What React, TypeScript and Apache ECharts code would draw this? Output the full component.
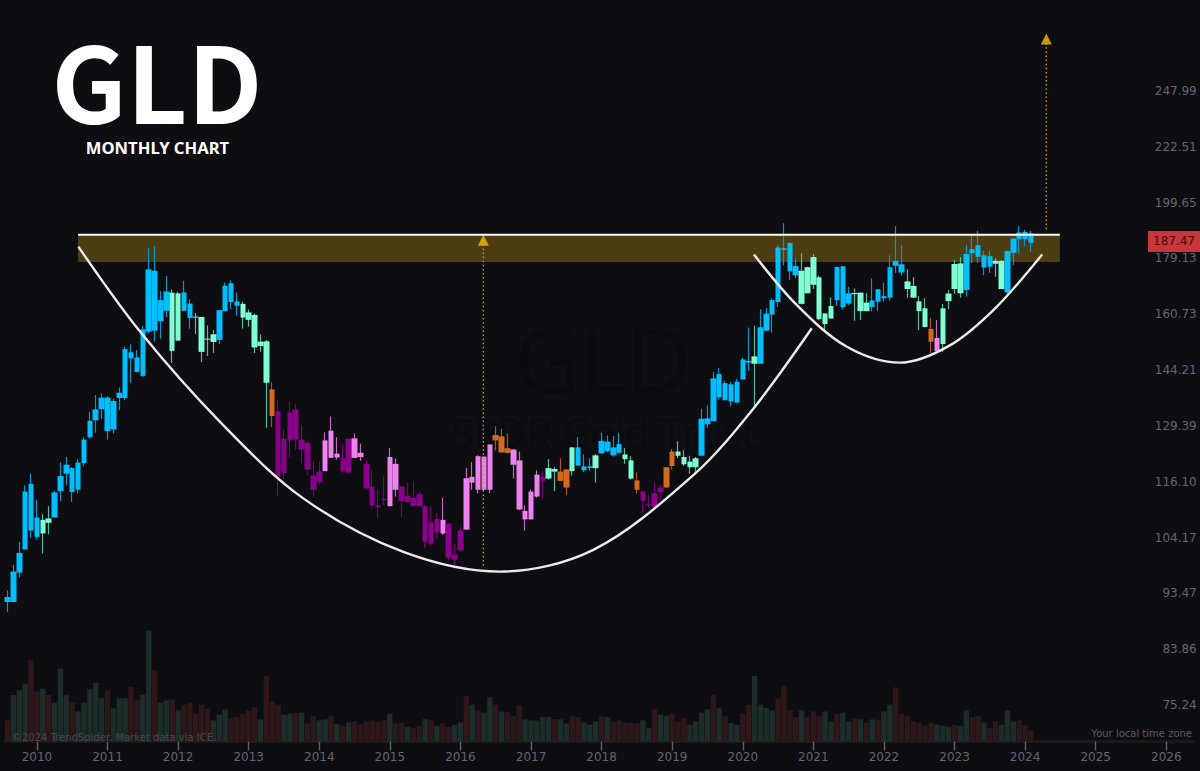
import { useEffect, useRef } from 'react'
import * as echarts from 'echarts'

// ── price axis: evenly spaced on a log scale ─────────────────
const PRICE_TICKS = ['75.24', '83.86', '93.47', '104.17', '116.10', '129.39', '144.21', '160.73', '179.13', '199.65', '222.51', '247.99']
const LOG_STEP = Math.log(247.99 / 75.24) / 11
const toAxis = (price: number) => Math.log(price / 75.24) / LOG_STEP

// ── monthly candles, first one Aug 2009 ──────────────────────
const HIGHS = [
  94.0, 98.8, 103.3, 115.3, 117.9, 112.1, 109.0, 110.7, 114.1, 120.5,
  121.8, 119.4, 121.2, 126.6, 133, 137.4, 137.8, 137.1, 136.4, 139.4,
  150.9, 151.6, 149.9, 157.2, 182.7, 183.5, 168.2, 173.1, 168.7, 167.9,
  171.6, 165.5, 161.1, 159.9, 157.3, 155.9, 162, 170.9, 171.7, 167.7,
  164.7, 162.2, 161, 154.6, 152.9, 140.9, 136, 128.5, 135.6, 135.1,
  129.5, 125.6, 120.8, 120.8, 127.8, 131.8, 126.6, 125, 126.2, 127.5,
  125, 121, 118.9, 114.4, 117.5, 124, 121.5, 115.1, 115.9, 116.2,
  113.9, 111, 110.7, 109.2, 112.5, 107.1, 102.9, 106.3, 119.2, 120.6,
  122.2, 121.9, 124.8, 129.3, 128.7, 127.5, 123.6, 123.1, 110.9, 114.4,
  118.7, 118.5, 121.3, 119.4, 121.5, 118.9, 124.2, 126.6, 122.4, 121.5,
  122.5, 127.7, 127, 126.9, 127.7, 123.9, 122, 118.2, 114.1, 113.2,
  115.9, 115.4, 119.4, 123.7, 125.6, 123.4, 122.1, 121.8, 133.8, 134.7,
  143.7, 144.8, 141.2, 141, 141.8, 147.7, 156.6, 157.2, 162.3, 162.7,
  165.8, 183.9, 191.8, 184.7, 179.2, 180.9, 176.3, 180.7, 173.2, 161,
  166.1, 176.3, 176.5, 169.5, 169, 167.7, 167.4, 172.3, 168.8, 170.9,
  180.2, 190.8, 183.9, 175.4, 172.7, 166.5, 165.8, 159.6, 158.9, 164,
  168.5, 178.6, 179.6, 183.9, 187.5, 189, 181.8, 181.8, 179.2, 178.6,
  181.8, 186.2, 190.8, 189.3, 189,
]
const BODY_TOPS = [
  92.8, 97.5, 101.1, 113.9, 115.6, 108.3, 107.8, 108.1, 113.7, 117.4,
  120.0, 119.2, 120.5, 126, 130.7, 133.6, 136.7, 136.7, 135.8, 138,
  150.2, 149.3, 147.8, 156.1, 175.4, 174.9, 165.2, 168, 167.6, 167.4,
  167.7, 164.1, 160, 159.9, 153.3, 154.6, 162, 169.9, 170.7, 164.8,
  164, 161.3, 160.5, 152.4, 152.5, 138.9, 133.1, 126.2, 132.8, 133.6,
  126, 125.2, 117.5, 118.4, 125.8, 128.2, 122.6, 121.5, 126.2, 126.3,
  122.8, 120.2, 115, 110.9, 112.3, 121.8, 120.2, 115, 113, 112.5,
  113.4, 110.7, 107.3, 108, 107.8, 107, 100.8, 105.6, 116.9, 117.2,
  122, 121.9, 124.8, 127.1, 126.8, 123.9, 123.6, 121, 109.7, 113.9,
  117.7, 117.2, 119.2, 119, 118.4, 118.9, 124.1, 124.1, 119.6, 119.6,
  122.2, 125.7, 125.5, 124.1, 124.9, 122.4, 121, 116.4, 113.9, 111.1,
  113.5, 114.8, 119.4, 123.1, 123.1, 121.8, 120.7, 121.5, 131.2, 131.3,
  141.9, 143.1, 140.6, 140.3, 141, 147.2, 146.8, 148.1, 156.7, 160.9,
  165.2, 183, 182.7, 184.6, 176.5, 174.9, 176.1, 179.6, 172.7, 161,
  163.3, 176.2, 176.4, 167.4, 167.5, 167.6, 164.4, 165.1, 168.7, 166.5,
  176.1, 178.3, 177.1, 171.3, 169.8, 164.8, 162.6, 156.2, 153.5, 162.6,
  167.3, 177.2, 177.4, 180.7, 182.4, 183.8, 180.2, 179.9, 178.3, 178.3,
  181.7, 186.2, 188.4, 188.6, 188.1,
]
const BODY_BOTTOMS = [
  91.9, 91.9, 97.3, 101.8, 105.6, 104.3, 105, 107.2, 108.3, 114,
  117.9, 113.8, 114.3, 120.4, 126.6, 130.8, 133.7, 128.1, 128.5, 136.6,
  136.6, 147.5, 143.7, 142.6, 155.4, 155.7, 158.6, 161.8, 149.7, 152.7,
  161.8, 159.6, 159.7, 149.4, 153, 152.3, 152.9, 161.7, 164.6, 163.4,
  159.7, 159, 150.7, 151.1, 140.7, 131.9, 117.3, 118.1, 125.8, 126,
  123.6, 118.9, 114.3, 116, 118.5, 121.6, 121.7, 118.4, 118.2, 121.6,
  121.8, 114.6, 110.9, 110.5, 112, 110.7, 114.3, 111.8, 111.6, 110.7,
  110.7, 103.3, 102.9, 105.2, 105, 100.2, 99.8, 101.6, 105.8, 115.9,
  114.3, 114.3, 114.3, 125.8, 122.9, 122.8, 120, 110, 107.9, 107.9,
  112.8, 116.3, 116.8, 118.4, 116.3, 114.8, 118.5, 119.8, 118.7, 119.2,
  119.2, 122.7, 123.2, 122.2, 122.8, 121.3, 116.8, 114.3, 111.9, 110.9,
  110.6, 113.8, 114.8, 119.7, 122.1, 120.1, 119.4, 119.4, 122.1, 129.8,
  130.6, 136.8, 136, 135.7, 135.4, 141.6, 146.3, 146, 146, 155.7,
  160.6, 164.6, 182.1, 174.7, 173.4, 164, 167.4, 170.2, 159.2, 157.7,
  159.4, 165.2, 163, 164.1, 167.1, 161.7, 161.7, 163, 164.7, 165.8,
  166, 176.6, 174.3, 168.8, 166, 161.7, 156.8, 152.4, 149.6, 151.7,
  164.9, 168.8, 167.4, 168.5, 180.9, 179.7, 176, 176.3, 177.3, 168.8,
  167.7, 181.1, 186, 186, 184.7,
]
const LOWS = [
  90.1, 91.9, 96.4, 101.8, 104.1, 103.8, 101, 104.8, 108.3, 111.8,
  115.4, 111.6, 113.5, 119.6, 126.2, 127.7, 131.1, 126, 127.5, 133.4,
  136, 140.7, 143.6, 142.3, 154.9, 152.4, 153.3, 159.9, 146.2, 152.7,
  161.7, 156.3, 154.6, 146.5, 148.2, 149.1, 151.7, 161.7, 162.4, 160.3,
  156.3, 156.9, 149.1, 149.4, 128.9, 129.1, 113, 116, 121.8, 123.4,
  120.4, 117.5, 112.8, 115.5, 118.5, 121.6, 121.2, 118.1, 117.9, 121.5,
  120.9, 114.3, 110.2, 108.2, 110.9, 110.7, 112.8, 108.4, 111.4, 110.7,
  110.7, 102.1, 102.6, 103.8, 104.7, 99.6, 98.8, 101.3, 105.7, 114.3,
  113.5, 114.1, 113.5, 123.4, 122.8, 122.6, 116.8, 109.9, 105.6, 107.9,
  112.6, 112.5, 116.6, 114, 116.3, 113.2, 117.5, 119.8, 118.3, 118.5,
  115.9, 122.6, 122.9, 121.9, 122.6, 120.2, 116.6, 113.5, 109.4, 110.4,
  110.5, 111.8, 114.7, 118.9, 121.5, 119.7, 118, 118, 122.1, 128.9,
  130.6, 136.2, 136, 134.4, 135.3, 141.6, 144, 134.4, 146, 155.6,
  155.1, 163, 176.8, 171.8, 172.4, 163.8, 167.4, 168.8, 158.9, 155.7,
  159.4, 163.4, 162.2, 163.6, 158.7, 158.9, 161.7, 161.7, 161.7, 164.7,
  165, 174.2, 173.3, 166, 165.9, 155.9, 156.7, 149.1, 149.6, 149.4,
  162.3, 167.2, 166, 166.3, 177.6, 177.6, 173.4, 174.2, 172.9, 168.8,
  166.3, 176.8, 180.9, 183.3, 181.5,
]

// trend state of each candle, one letter per month
const TREND = [
  'bbbbbb', 'gg', 'bbbbbbbbbbbbbbbbbbbb', 'gg', 'bb', 'gggg', 'bbbb', 'ggggg', 'o', 'pppppppp',
  'kkk', 'pp', 'kk', 'pppp', 'kk', 'ppppppp', 'k', 'ppp', 'kkkkk', 'ooo', 'kkkkk', 'p', 'gg', 'oo', 'g',
  'bbb', 'g', 'bbbb', 'gg', 'o', 'pppp', 'oo', 'gggg', 'bbbbbbbbb', 'g', 'bbbbbbb', 'gggggg', 'bbb', 'ggg',
  'bbbbbb', 'gggg', 'o', 'k', 'gggg', 'bbbbb', 'gg', 'bbbbb',
].join('')

const TREND_COLORS: Record<string, { body: string; wick: string }> = {
  b: { body: '#00bfff', wick: '#0896c6' },
  g: { body: '#7fffd4', wick: '#5bb79a' },
  o: { body: '#d2691e', wick: '#a9561b' },
  p: { body: '#8b008b', wick: '#720472' },
  k: { body: '#ee82ee', wick: '#bd6bbd' },
}

// ── volume (relative), u = up month, d = down month ──────────
const VOLUMES = [
  63, 139, 153, 173, 245, 150, 158, 139, 116, 218,
  140, 116, 90, 116, 156, 175, 129, 153, 99, 129,
  129, 163, 123, 140, 331, 212, 116, 123, 126, 93,
  110, 116, 83, 110, 99, 63, 80, 96, 70, 73,
  83, 93, 103, 66, 196, 120, 110, 80, 83, 86,
  86, 54, 76, 63, 66, 76, 53, 47, 57, 60,
  51, 60, 63, 60, 63, 83, 54, 57, 43, 40,
  47, 67, 63, 47, 54, 44, 50, 57, 136, 110,
  93, 86, 132, 110, 90, 89, 77, 106, 66, 63,
  63, 73, 73, 67, 66, 54, 76, 73, 57, 50,
  60, 76, 73, 60, 63, 57, 56, 54, 63, 40,
  96, 80, 76, 83, 60, 70, 50, 60, 86, 96,
  140, 99, 76, 56, 50, 83, 110, 196, 110, 100,
  93, 129, 165, 93, 73, 93, 74, 90, 76, 90,
  60, 83, 86, 60, 70, 66, 56, 66, 63, 90,
  110, 162, 83, 76, 60, 56, 47, 56, 50, 47,
  44, 50, 47, 93, 73, 76, 56, 40, 60, 50,
  93, 60, 63, 50, 34,
]
const VOLUME_DIRS = [
  'd', 'uuu', 'dd', 'u', 'd', 'uuu', 'd', 'uuuuu', 'd', 'uuu', 'dd', 'uu', 'd', 'uu', 'd', 'u', 'ddddd', 'uuu',
  'ddddd', 'u', 'ddd', 'uu', 'd', 'u', 'dd', 'uu', 'd', 'u', 'd', 'u', 'dddddd', 'u', 'dd', 'u', 'dd', 'u', 'd', 'u',
  'dd', 'uu', 'd', 'u', 'd', 'uu', 'd', 'u', 'ddd', 'uuuuu', 'd', 'uu', 'dd', 'uuu', 'd', 'u', 'ddddd', 'uu', 'd',
  'uu', 'ddd', 'uuuu', 'd', 'u', 'd', 'uu', 'dd', 'uuuu', 'dddd', 'u', 'ddd', 'uu', 'd', 'uu', 'd', 'u', 'd', 'u',
  'd', 'uu', 'ddddddd', 'uuu', 'd', 'uu', 'dd', 'u', 'dd', 'uuu', 'dd',
].join('')

// ── time axis: months from Aug 2009 to the end of 2026 ───────
const MONTHS = Array.from({ length: 202 }, (_, i) => {
  const m = i + 7
  return `${2009 + Math.floor(m / 12)}-${(m % 12) + 1}`
})
const isYearStart = (i: number) => (i + 7) % 12 === 0

// ── drawn annotations: [month index, price] ──────────────────
const CUP = [
  [12.04, 183.3], [22.53, 155.4], [36.13, 130.4], [50.29, 112.4], [67.29, 101.3],
  [83.73, 97.5], [99.59, 101.7], [116.6, 117.6], [126.79, 133.8], [136.73, 156.4],
]
const HANDLE = [
  [126.9, 180.5], [134.2, 163.6], [142.7, 150.9], [151.7, 146.3], [160.2, 151.3], [167.9, 162.6], [175.9, 180.5],
]
const RESISTANCE_ZONE = { from: 12.0, to: 178.9, top: 187.6, bottom: 177.9 }
const MEASURED_MOVES = [
  { month: 80.9, tip: 185.6, end: 98.3 },
  { month: 176.6, tip: 274.3, end: 189.3 },
]

const BG = '#0d0d12'
const AXIS_TEXT = '#656569'

function buildOption() {
  const toPoint = ([m, p]: number[]) => [m, toAxis(p)]

  const wicks = HIGHS.map((h, i) => {
    const c = TREND_COLORS[TREND[i]].wick
    return {
      value: [toAxis(BODY_BOTTOMS[i]), toAxis(BODY_TOPS[i]), toAxis(LOWS[i]), toAxis(h)],
      itemStyle: { color: c, color0: c, borderColor: c, borderColor0: c },
    }
  })
  const bodies = HIGHS.map((_, i) => {
    const c = TREND_COLORS[TREND[i]].body
    const lo = toAxis(BODY_BOTTOMS[i])
    const hi = toAxis(BODY_TOPS[i])
    return { value: [lo, hi, lo, hi], itemStyle: { color: c, color0: c, borderColor: c, borderColor0: c } }
  })
  const volumeBars = VOLUMES.map((v, i) => ({
    value: v,
    itemStyle: { color: VOLUME_DIRS[i] === 'u' ? '#1b2c29' : '#2e1719' },
  }))

  const zone = RESISTANCE_ZONE
  const moveLines = MEASURED_MOVES.map((m) => ({
    type: 'line' as const,
    xAxisIndex: 1,
    yAxisIndex: 0,
    z: 5,
    symbol: 'none',
    silent: true,
    lineStyle: { color: '#c49a0e', width: 1.4, type: [1.5, 2.6] },
    data: [[m.month, toAxis(m.tip)], [m.month, toAxis(m.end)]],
  }))

  const text = (t: string, x: number, y: number, size: number, fill: string, extra: object = {}) => ({
    type: 'text' as const,
    x,
    y,
    z: 20,
    silent: true,
    style: {
      text: t,
      fill,
      fontSize: size,
      fontFamily: 'DejaVu Sans',
      textVerticalAlign: 'middle',
      ...extra,
    },
  })

  return {
    animation: false,
    backgroundColor: BG,
    grid: [
      { left: 4.56, width: 1188.2, top: 35.18, height: 725.64 },
      { left: 4.56, width: 1188.2, top: 630.7, height: 110.8 },
    ],
    xAxis: [
      { type: 'category', gridIndex: 0, data: MONTHS, show: false },
      { type: 'value', gridIndex: 0, min: -0.5, max: 201.5, show: false },
      {
        type: 'category',
        gridIndex: 1,
        data: MONTHS,
        axisLine: { show: true, lineStyle: { color: '#1a1a1d', width: 3 } },
        axisTick: { show: true, alignWithLabel: true, length: 9, interval: (i: number) => isYearStart(i), lineStyle: { color: '#626266', width: 1.4 } },
        axisLabel: {
          interval: (i: number) => isYearStart(i),
          formatter: (v: string) => v.split('-')[0],
          color: AXIS_TEXT,
          fontFamily: 'DejaVu Sans',
          fontSize: 12,
          margin: 9,
        },
        splitLine: { show: false },
      },
    ],
    yAxis: [
      {
        type: 'value',
        gridIndex: 0,
        position: 'right',
        min: -1,
        max: 12,
        interval: 1,
        axisLine: { show: false },
        axisTick: { show: false },
        splitLine: { show: false },
        axisLabel: {
          align: 'right',
          margin: 4,
          color: AXIS_TEXT,
          fontFamily: 'DejaVu Sans',
          fontSize: 12,
          formatter: (v: number) => PRICE_TICKS[v] ?? '',
        },
      },
      { type: 'value', gridIndex: 1, min: 0, max: 331, show: false },
    ],
    series: [
      {
        // resistance zone under the candles
        type: 'line',
        xAxisIndex: 1,
        yAxisIndex: 0,
        z: 1,
        symbol: 'none',
        silent: true,
        data: [],
        markArea: {
          silent: true,
          z: 1,
          itemStyle: { color: '#4c3e12', borderWidth: 0 },
          data: [[{ coord: [zone.from, toAxis(zone.top)] }, { coord: [zone.to, toAxis(zone.bottom)] }]],
        },
      },
      { type: 'bar', xAxisIndex: 2, yAxisIndex: 1, barCategoryGap: '8%', data: volumeBars, silent: true },
      { type: 'candlestick', xAxisIndex: 0, yAxisIndex: 0, z: 2, barWidth: 1, itemStyle: { borderWidth: 1.2 }, data: wicks, silent: true },
      { type: 'candlestick', xAxisIndex: 0, yAxisIndex: 0, z: 3, barWidth: 6, itemStyle: { borderWidth: 0 }, data: bodies, silent: true },
      ...moveLines,
      {
        type: 'line',
        xAxisIndex: 1,
        yAxisIndex: 0,
        z: 6,
        symbol: 'none',
        silent: true,
        lineStyle: { color: '#ffffff', width: 2 },
        data: [[zone.from, toAxis(zone.top)], [zone.to, toAxis(zone.top)]],
      },
      {
        type: 'line',
        xAxisIndex: 1,
        yAxisIndex: 0,
        z: 6,
        symbol: 'none',
        smooth: 0.33,
        silent: true,
        lineStyle: { color: '#ececec', width: 2.4 },
        data: CUP.map(toPoint),
      },
      {
        type: 'line',
        xAxisIndex: 1,
        yAxisIndex: 0,
        z: 6,
        symbol: 'none',
        smooth: 0.33,
        silent: true,
        lineStyle: { color: '#ececec', width: 2.4 },
        data: HANDLE.map(toPoint),
      },
      {
        type: 'scatter',
        xAxisIndex: 1,
        yAxisIndex: 0,
        z: 7,
        symbol: 'triangle',
        symbolSize: [11, 11],
        silent: true,
        itemStyle: { color: '#f7b900' },
        data: MEASURED_MOVES.map((m) => [m.month, toAxis(m.tip)]),
      },
    ],
    graphic: [
      // faint watermark behind everything
      { ...text('GLD', 603, 358, 90, '#0a0a0e', { fontFamily: 'Open Sans', textAlign: 'center' }), z: 0 },
      { ...text('SPDR Gold Trust', 604, 432, 40, '#0a0a0e', { fontFamily: 'Open Sans', textAlign: 'center' }), z: 0 },
      text('GLD', 157, 78, 105, '#ffffff', { fontFamily: 'Noto Sans CJK SC', fontWeight: 'bold', textAlign: 'center' }),
      text('MONTHLY CHART', 157.5, 147.5, 16.6, '#ffffff', { fontFamily: 'Noto Sans', fontWeight: 'bold', textAlign: 'center' }),
      text('©2024 TrendSpider. Market data via ICE.', 12, 737, 10, '#48484b'),
      text('Your local time zone', 1192, 733.5, 10, '#5a5a5e', { textAlign: 'right' }),
      { type: 'rect', z: 20, silent: true, shape: { x: 1148, y: 231, width: 52, height: 21 }, style: { fill: '#c8353a' } },
      text('187.47', 1195, 241, 12, '#4a0d10', { textAlign: 'right' }),
    ],
  }
}

export default function App() {
  const containerRef = useRef<HTMLDivElement>(null)

  useEffect(() => {
    if (!containerRef.current) return
    document.body.style.margin = '0'
    const chart = echarts.init(containerRef.current, null, { renderer: 'svg' })
    chart.setOption(buildOption() as echarts.EChartsOption)
    return () => chart.dispose()
  }, [])

  return <div ref={containerRef} style={{ width: 1200, height: 771, background: BG }} />
}
